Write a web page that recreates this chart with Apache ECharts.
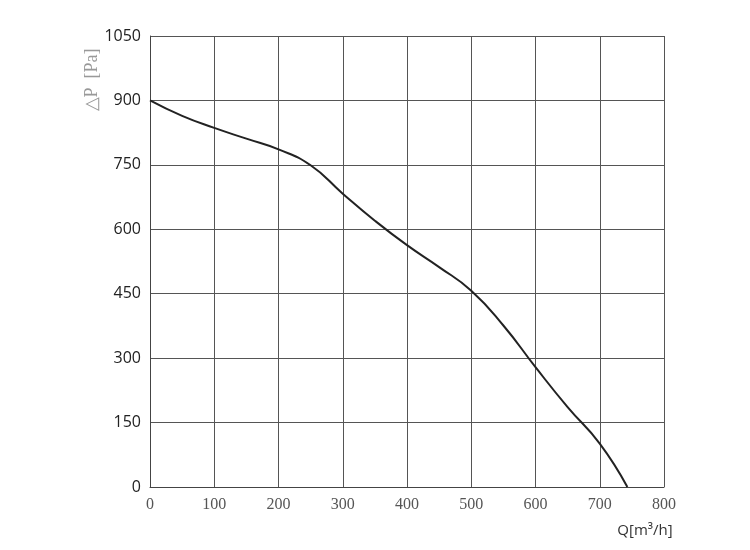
<!DOCTYPE html>
<html>
<head>
<meta charset="utf-8">
<script src="https://cdn.jsdelivr.net/npm/echarts@6/dist/echarts.min.js"></script>
<style>html,body{margin:0;padding:0;background:#fff}#c{width:750px;height:550px}</style>
</head>
<body>
<div id="c"></div>
<script>
const flowQ = [0, 50, 100, 150, 200, 250, 300, 350, 400, 450, 500, 550, 600, 650, 700, 743];
const pressureP = [900, 864, 836, 811, 786, 749, 683, 620, 563, 512, 457, 376, 279, 186, 101, 0];
const xTicks = [0, 100, 200, 300, 400, 500, 600, 700, 800];
const yTicks = [0, 150, 300, 450, 600, 750, 900, 1050];

const chart = echarts.init(document.getElementById('c'));
chart.setOption({
  animation: false,
  backgroundColor: '#fff',
  grid: { left: 150, right: 86, top: 36, bottom: 63 },
  xAxis: {
    type: 'value', min: xTicks[0], max: xTicks[xTicks.length - 1], interval: 100,
    axisLine: { lineStyle: { color: '#444', width: 1 } },
    axisTick: { show: false },
    axisLabel: { color: '#555', fontFamily: '"Liberation Serif", serif', fontSize: 16, margin: 10, formatter: v => String(v) },
    splitLine: { show: true, lineStyle: { color: '#555', width: 1 } }
  },
  yAxis: {
    type: 'value', min: yTicks[0], max: yTicks[yTicks.length - 1], interval: 150,
    axisLine: { show: true, lineStyle: { color: '#444', width: 1 } },
    axisTick: { show: false },
    axisLabel: { color: '#222', fontFamily: '"Open Sans", sans-serif', fontSize: 16, margin: 9, formatter: v => String(v) },
    splitLine: { show: true, lineStyle: { color: '#555', width: 1 } }
  },
  graphic: [
    { type: 'text', x: 92, y: 80, rotation: Math.PI / 2, style: { text: '\u25B3P  [Pa]', fill: '#999', font: '18px "Liberation Serif", serif', align: 'center', verticalAlign: 'middle' } },
    { type: 'text', x: 645, y: 531, style: { text: 'Q[m\u00B3/h]', fill: '#333', font: '15px "Open Sans", sans-serif', align: 'center', verticalAlign: 'middle' } }
  ],
  series: [{
    type: 'line',
    data: flowQ.map((q, i) => [q, pressureP[i]]),
    smooth: 0.5,
    showSymbol: false,
    lineStyle: { color: '#222', width: 2 }
  }]
});
</script>
</body>
</html>
